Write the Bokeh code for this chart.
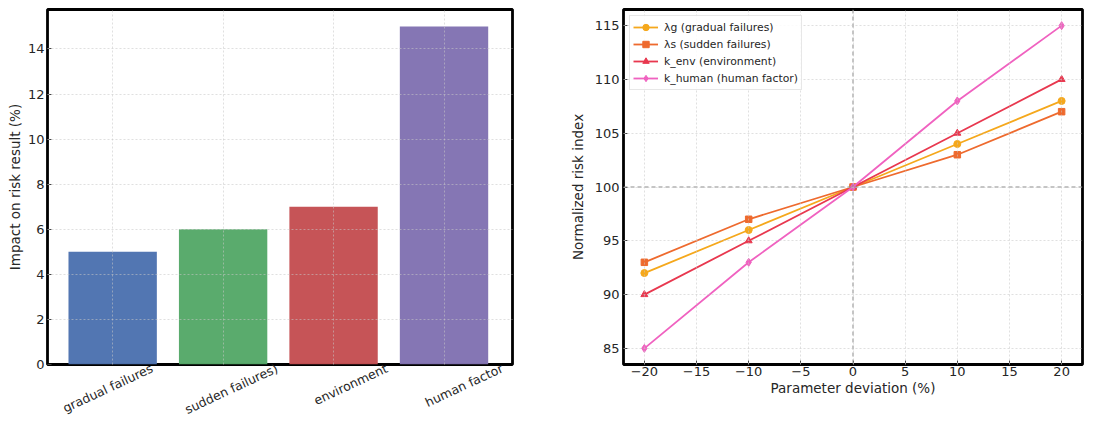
from bokeh.plotting import figure
from bokeh.layouts import row
from bokeh.models import Span, Range1d, FixedTicker, Legend, LegendItem
from bokeh.embed import file_html
from bokeh.resources import INLINE
import math

# ---- data ----
categories = ["gradual failures", "sudden failures)", "environment", "human factor"]
impact = [5, 6, 7, 15]
bar_colors = ["#4c72b0", "#55a868", "#c44e52", "#8172b2"]

deviation = [-20, -10, 0, 10, 20]
lam_g = [92, 96, 100, 104, 108]
lam_s = [93, 97, 100, 103, 107]
k_env = [90, 95, 100, 105, 110]
k_human = [85, 93, 100, 108, 115]
series_names = ["λg (gradual failures)", "λs (sudden failures)", "k_env (environment)", "k_human (human factor)"]
series_colors = ["#f5a81c", "#ee6a2e", "#e8384f", "#f062c0"]

FONT = "DejaVu Sans"
H = 426

# approximate DejaVu Sans advance widths (em) used to place rotated labels
CW = {"a": .613, "b": .635, "c": .550, "d": .635, "e": .615, "f": .352, "g": .635, "h": .634,
      "i": .278, "l": .278, "m": .974, "n": .634, "o": .612, "r": .411, "s": .521, "t": .392,
      "u": .634, "v": .592, " ": .318, ")": .390}
# small horizontal nudges (px) of the rotated category labels, as seen in the reference
label_nudge_px = [-5, 8, 17, 20]


def text_w(s, px):
    return sum(CW.get(ch, .6) for ch in s) * px


def style(p):
    p.outline_line_color = "black"
    p.outline_line_width = 2.8
    p.background_fill_color = "white"
    p.border_fill_color = "white"
    for ax in (p.xaxis, p.yaxis):
        ax.axis_line_color = None
        ax.major_tick_in = 4
        ax.major_tick_out = 0
        ax.minor_tick_line_color = None
        ax.major_tick_line_color = "#444444"
        ax.major_label_text_font = FONT
        ax.major_label_text_font_size = "13px"
        ax.major_label_text_color = "#262626"
        ax.axis_label_text_font = FONT
        ax.axis_label_text_font_size = "13.5px"
        ax.axis_label_text_font_style = "normal"
        ax.axis_label_text_color = "#262626"
    for g in (p.xgrid, p.ygrid):
        g.grid_line_color = "#c8c8c8"
        g.grid_line_alpha = 0.7
        g.grid_line_dash = "2 2"
        g.grid_line_width = 0.8
        g.level = "overlay"


# ---- left bar chart ----
xpos = list(range(len(categories)))
X0, X1 = -0.59, 3.62
W1 = 555
BL1, BR1 = 47, 43
p1 = figure(width=W1, height=H, x_range=Range1d(X0, X1), y_range=Range1d(0, 15.75),
            output_backend="svg", toolbar_location=None,
            min_border_left=BL1, min_border_right=BR1, min_border_top=8, min_border_bottom=H - 365)
p1.vbar(x=xpos, top=impact, width=0.8, color=bar_colors, alpha=0.97, line_color=None)
style(p1)
p1.yaxis.ticker = FixedTicker(ticks=[0, 2, 4, 6, 8, 10, 12, 14])
p1.yaxis.axis_label = "Impact on risk result (%)"
p1.yaxis.major_label_standoff = 3
p1.yaxis.axis_label_standoff = 2

# rotated category labels: bokeh anchors a rotated label at its end, so shift the
# label tick by half the text's projected width to centre it under the bar
ANG = math.radians(25)
LBL_PX = 12.5
px_per_unit = (W1 - BL1 - BR1) / (X1 - X0)
label_ticks = [i + (text_w(c, LBL_PX) / 2 * math.cos(ANG) + n) / px_per_unit
               for i, c, n in zip(xpos, categories, label_nudge_px)]
p1.xaxis.ticker = FixedTicker(ticks=label_ticks)
p1.xaxis.major_label_overrides = {t: c for t, c in zip(label_ticks, categories)}
p1.xaxis.major_label_orientation = ANG
p1.xaxis.major_label_text_font_size = f"{LBL_PX}px"
p1.xaxis.major_label_standoff = 3
p1.xaxis.major_tick_line_color = None
p1.xgrid.ticker = FixedTicker(ticks=xpos)

# ---- right line chart ----
p2 = figure(width=550, height=H, x_range=Range1d(-22, 22), y_range=Range1d(83.5, 116.5),
            output_backend="svg", toolbar_location=None,
            min_border_left=68, min_border_right=23, min_border_top=9, min_border_bottom=H - 366)
style(p2)
xt = [-20, -15, -10, -5, 0, 5, 10, 15, 20]
p2.xaxis.ticker = FixedTicker(ticks=xt)
p2.xaxis.major_label_overrides = {t: ("\u2212" + str(-t) if t < 0 else str(t)) for t in xt}
p2.yaxis.ticker = FixedTicker(ticks=[85, 90, 95, 100, 105, 110, 115])
p2.xaxis.axis_label = "Parameter deviation (%)"
p2.yaxis.axis_label = "Normalized risk index"
p2.xaxis.major_label_standoff = 2
p2.xaxis.axis_label_standoff = 1
p2.yaxis.major_label_standoff = 4
p2.yaxis.axis_label_standoff = 6

p2.add_layout(Span(location=0, dimension="height", line_color="#8a8a8a", line_dash="4 3", line_width=1))
p2.add_layout(Span(location=100, dimension="width", line_color="#8a8a8a", line_dash="4 3", line_width=1))

items = []
all_series = [lam_g, lam_s, k_env, k_human]
markers = ["circle", "square", "triangle", "diamond"]
sizes = [7, 6.5, 7, 8]
for name, ys, c, m, s in zip(series_names, all_series, series_colors, markers, sizes):
    r1 = p2.line(deviation, ys, line_color=c, line_width=1.8)
    r2 = p2.scatter(deviation, ys, marker=m, size=s, fill_color=c, line_color=c)
    items.append(LegendItem(label=name, renderers=[r1, r2]))

leg = Legend(items=items, location="top_left")
leg.label_text_font = FONT
leg.label_text_font_size = "10.8px"
leg.label_text_color = "#262626"
leg.border_line_color = "#d0d0d0"
leg.background_fill_alpha = 0.85
leg.glyph_width = 25
leg.glyph_height = 16
leg.label_height = 16
leg.label_standoff = 6
leg.spacing = 1
leg.padding = 3
leg.margin = 6
p2.add_layout(leg)

layout = row(p1, p2)
open("out.html", "w").write(file_html(layout, INLINE))
